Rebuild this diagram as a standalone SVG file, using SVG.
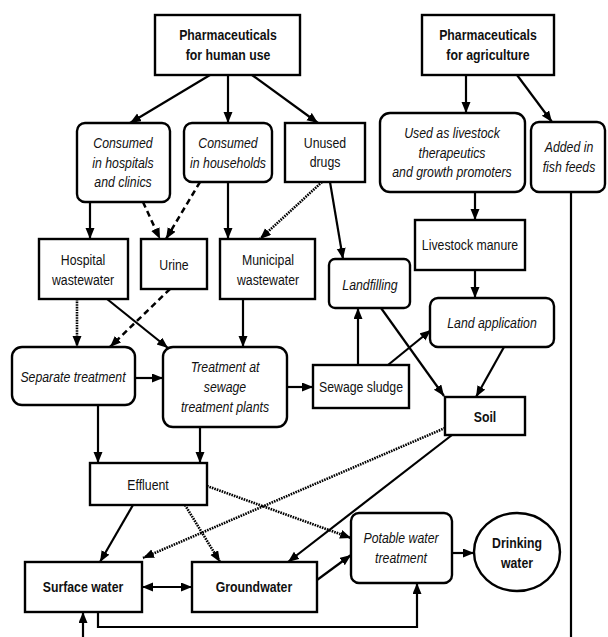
<svg xmlns="http://www.w3.org/2000/svg" width="608" height="637" viewBox="0 0 608 637">
<style>
.box{fill:#fff;stroke:#000;stroke-width:2.4}
.t{font-family:"Liberation Sans",Arial,sans-serif;font-size:15px;text-anchor:middle;fill:#111}
.b{font-weight:bold}
.i{font-style:italic}
.c{fill:none;stroke:#000;stroke-width:2.2}
.a{marker-end:url(#ah)}
.dash{stroke-dasharray:6,4;stroke-width:2.5}
.dot{stroke-dasharray:1.6,1;stroke-width:2.6}
</style>
<defs>
<marker id="ah" markerUnits="userSpaceOnUse" markerWidth="12" markerHeight="10" refX="11" refY="4.5" orient="auto-start-reverse">
<path d="M0,0 L11,4.5 L0,9 z" fill="#000"/>
</marker>
</defs>
<rect width="608" height="637" fill="#fff"/>
<g id="connectors">
<path class="c a" d="M210,75 L130,123"/>
<path class="c a" d="M228,75 L228,123"/>
<path class="c a" d="M252,75 L318,123"/>
<path class="c a" d="M466,75 L466,113"/>
<path class="c a" d="M517,75 L552,122"/>
<path class="c a" d="M90,202 L90,239"/>
<path class="c a dash" d="M143,202 L160,239"/>
<path class="c a dash" d="M200,182 L166,239"/>
<path class="c a" d="M228,182 L228,239"/>
<path class="c a dot" d="M322,182 L260,239"/>
<path class="c a" d="M330,182 L343,259"/>
<path class="c a" d="M475,192 L475,220"/>
<path class="c a" d="M475,270 L475,298"/>
<path class="c a" d="M504,347 L476,397"/>
<path class="c a" d="M381,308 L444,396"/>
<path class="c a" d="M358,365 L358,308"/>
<path class="c a" d="M388,365 L431,330"/>
<path class="c a" d="M287,387 L313,387"/>
<path class="c a" d="M243,299 L243,347"/>
<path class="c a" d="M107,299 L168,348"/>
<path class="c a dot" d="M77,299 L77,347"/>
<path class="c a dash" d="M170,289 L110,347"/>
<path class="c a" d="M135,378 L163,378"/>
<path class="c a" d="M98,405 L98,463"/>
<path class="c a" d="M200,427 L200,463"/>
<path class="c a" d="M133,505 L100,562"/>
<path class="c a dot" d="M185,505 L220,562"/>
<path class="c a dot" d="M207,486 L351,538"/>
<path class="c a dot" d="M445,428 L143,558"/>
<path class="c a" d="M452,435 L288,562"/>
<path class="c a" d="M317,580 L351,555"/>
<path class="c a" d="M452,553 L474,553"/>
<path class="c a" d="M142,587 L192,587" marker-start="url(#ah)"/>
<path class="c a" d="M98,612 L98,627 L417,627 L417,583"/>
<path class="c" d="M571,192 L571,637"/>
<path class="c a" d="M83,637 L83,612"/>
</g>
<g id="human"><rect class="box" x="155" y="15" width="145" height="60"/><text class="t b" transform="translate(228 40) scale(.82 1)">Pharmaceuticals</text><text class="t b" transform="translate(228 60) scale(.82 1)">for human use</text></g>
<g id="agri"><rect class="box" x="422" y="15" width="132" height="60"/><text class="t b" transform="translate(488 40) scale(.82 1)">Pharmaceuticals</text><text class="t b" transform="translate(488 60) scale(.82 1)">for agriculture</text></g>
<g id="hospConsumed"><rect class="box" x="77" y="123" width="93" height="79" rx="8"/><text class="t i" transform="translate(123 148) scale(.82 1)">Consumed</text><text class="t i" transform="translate(123 168) scale(.82 1)">in hospitals</text><text class="t i" transform="translate(123 187) scale(.82 1)">and clinics</text></g>
<g id="houseConsumed"><rect class="box" x="184" y="123" width="88" height="59" rx="8"/><text class="t i" transform="translate(228 148) scale(.82 1)">Consumed</text><text class="t i" transform="translate(228 168) scale(.82 1)">in households</text></g>
<g id="unused"><rect class="box" x="285" y="123" width="80" height="59"/><text class="t" transform="translate(325 148) scale(.82 1)">Unused</text><text class="t" transform="translate(325 167) scale(.82 1)">drugs</text></g>
<g id="livestockUse"><rect class="box" x="380" y="113" width="145" height="79" rx="10"/><text class="t i" transform="translate(452 138) scale(.82 1)">Used as livestock</text><text class="t i" transform="translate(452 158) scale(.82 1)">therapeutics</text><text class="t i" transform="translate(452 177) scale(.82 1)">and growth promoters</text></g>
<g id="fish"><rect class="box" x="531" y="122" width="74" height="70" rx="8"/><text class="t i" transform="translate(569 152) scale(.82 1)">Added in</text><text class="t i" transform="translate(569 172) scale(.82 1)">fish feeds</text></g>
<g id="hospWW"><rect class="box" x="39" y="239" width="89" height="60"/><text class="t" transform="translate(83 265) scale(.82 1)">Hospital</text><text class="t" transform="translate(83 285) scale(.82 1)">wastewater</text></g>
<g id="urine"><rect class="box" x="141" y="239" width="66" height="50"/><text class="t" transform="translate(174 270) scale(.82 1)">Urine</text></g>
<g id="muniWW"><rect class="box" x="220" y="239" width="95" height="60"/><text class="t" transform="translate(268 265) scale(.82 1)">Municipal</text><text class="t" transform="translate(268 285) scale(.82 1)">wastewater</text></g>
<g id="landfill"><rect class="box" x="329" y="259" width="81" height="49" rx="6"/><text class="t i" transform="translate(370 290) scale(.82 1)">Landfilling</text></g>
<g id="manure"><rect class="box" x="415" y="220" width="110" height="50"/><text class="t" transform="translate(470 250) scale(.82 1)">Livestock manure</text></g>
<g id="landApp"><rect class="box" x="430" y="298" width="124" height="49" rx="8"/><text class="t i" transform="translate(492 328) scale(.82 1)">Land application</text></g>
<g id="separate"><rect class="box" x="12" y="347" width="123" height="58" rx="10"/><text class="t i" transform="translate(73 382) scale(.82 1)">Separate treatment</text></g>
<g id="stp"><rect class="box" x="163" y="347" width="124" height="80" rx="10"/><text class="t i" transform="translate(225 372) scale(.82 1)">Treatment at</text><text class="t i" transform="translate(225 392) scale(.82 1)">sewage</text><text class="t i" transform="translate(225 412) scale(.82 1)">treatment plants</text></g>
<g id="sludge"><rect class="box" x="313" y="365" width="96" height="43"/><text class="t" transform="translate(361 392) scale(.82 1)">Sewage sludge</text></g>
<g id="soil"><rect class="box" x="445" y="397" width="80" height="38"/><text class="t b" transform="translate(485 422) scale(.82 1)">Soil</text></g>
<g id="effluent"><rect class="box" x="90" y="463" width="117" height="42"/><text class="t" transform="translate(148 490) scale(.82 1)">Effluent</text></g>
<g id="surface"><rect class="box" x="25" y="562" width="117" height="50"/><text class="t b" transform="translate(83 592) scale(.82 1)">Surface water</text></g>
<g id="ground"><rect class="box" x="192" y="562" width="125" height="50"/><text class="t b" transform="translate(254 592) scale(.82 1)">Groundwater</text></g>
<g id="potable"><rect class="box" x="351" y="513" width="101" height="70" rx="8"/><text class="t i" transform="translate(401 543) scale(.82 1)">Potable water</text><text class="t i" transform="translate(401 563) scale(.82 1)">treatment</text></g>
<g id="drinking"><ellipse class="box" cx="517" cy="552" rx="43" ry="39"/><text class="t b" transform="translate(517 548) scale(.82 1)">Drinking</text><text class="t b" transform="translate(517 568) scale(.82 1)">water</text></g>
</svg>
